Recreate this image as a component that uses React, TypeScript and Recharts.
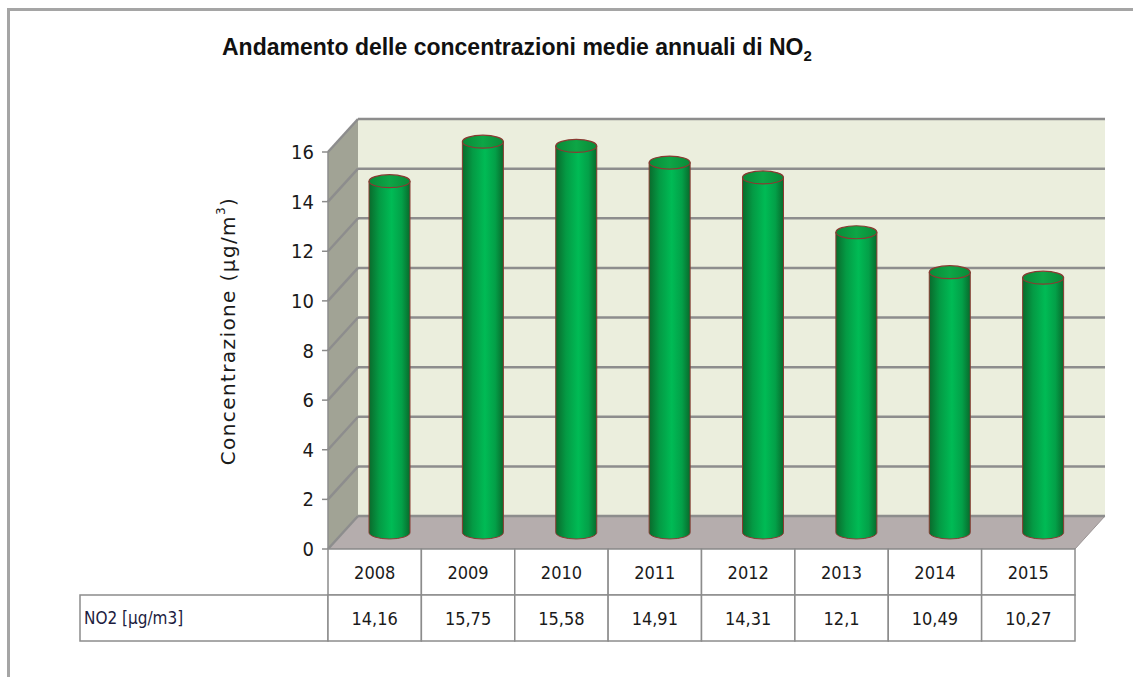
import { BarChart, Bar, XAxis, YAxis, CartesianGrid, ReferenceArea } from 'recharts';

const years = ['2008', '2009', '2010', '2011', '2012', '2013', '2014', '2015'];
const no2 = [14.16, 15.75, 15.58, 14.91, 14.31, 12.1, 10.49, 10.27];
const yTicks = [0, 2, 4, 6, 8, 10, 12, 14, 16];
const rowLabel = 'NO2 [µg/m3]';

const data = years.map((year, i) => ({ year, value: no2[i] }));

// 3D depth of the Excel-like box
const DX = 30;
const DY = -33;
const ROW_H = 46;
const NARROW = "'Liberation Sans Narrow', 'DejaVu Sans Condensed', 'Arial Narrow', sans-serif";

const fmt = (v: number) => String(v).replace('.', ',');

const Walls = (props: any) => {
  const { x, y, width, height } = props;
  const bx = x + DX;
  const by = y + DY;
  return (
    <g>
      <polygon points={`${x},${y} ${bx},${by} ${bx},${by + height} ${x},${y + height}`} fill="#a1a395" />
      <rect x={bx} y={by} width={width} height={height} fill="#ebeedd" />
      <polygon
        points={`${x},${y + height} ${bx},${by + height} ${bx + width},${by + height} ${x + width},${y + height}`}
        fill="#b5adad"
        stroke="#9a9494"
        strokeWidth={1}
      />
    </g>
  );
};

const GridLine = (props: any) => {
  const { x1, y1, x2, key } = props;
  return (
    <g key={key}>
      <line x1={x1} y1={y1} x2={x1 + DX} y2={y1 + DY} stroke="#8d8d8d" strokeWidth={2.5} />
      <line x1={x1 + DX} y1={y1 + DY} x2={x2 + DX} y2={y1 + DY} stroke="#8d8d8d" strokeWidth={2.5} />
    </g>
  );
};

const Cylinder = (props: any) => {
  const { x, y, width, height, index } = props;
  if (height == null || width == null) return null;
  const rx = width / 2;
  const ry = 6.5;
  const cx = x + rx + DX / 2;
  const top = y + DY / 2;
  const bottom = y + height + DY / 2;
  const gid = `cyl-body-${index}`;
  const tid = `cyl-top-${index}`;
  return (
    <g>
      <defs>
        <linearGradient id={gid} x1="0" y1="0" x2="1" y2="0">
          <stop offset="0%" stopColor="#0a6a2c" />
          <stop offset="25%" stopColor="#049a44" />
          <stop offset="55%" stopColor="#00bb55" />
          <stop offset="80%" stopColor="#03a048" />
          <stop offset="100%" stopColor="#086a2c" />
        </linearGradient>
        <linearGradient id={tid} x1="0" y1="0" x2="1" y2="0">
          <stop offset="0%" stopColor="#0a8a38" />
          <stop offset="50%" stopColor="#0da646" />
          <stop offset="100%" stopColor="#0a8a38" />
        </linearGradient>
      </defs>
      <path
        d={`M${cx - rx},${top} L${cx - rx},${bottom} A${rx},${ry} 0 0 0 ${cx + rx},${bottom} L${cx + rx},${top} Z`}
        fill={`url(#${gid})`}
        stroke="#8a3a32"
        strokeWidth={1}
      />
      <ellipse cx={cx} cy={top} rx={rx} ry={ry} fill={`url(#${tid})`} stroke="#8a3a32" strokeWidth={1.2} />
    </g>
  );
};

const TableTick = (props: any) => {
  const { x, y, payload, width, visibleTicksCount } = props;
  const index = payload.index ?? props.index;
  const cw = width && visibleTicksCount ? width / visibleTicksCount : (payload.offset || 46.7) * 2;
  const left = x - cw / 2;
  const cell = { fill: '#ffffff', stroke: '#8c8c8c', strokeWidth: 1.5 };
  const txt = { fontFamily: NARROW, fontSize: 18, fill: '#1a1a1a' };
  return (
    <g>
      {index === 0 && (
        <g>
          <rect x={80} y={y + ROW_H} width={left - 80} height={ROW_H} {...cell} />
          <text x={84} y={y + ROW_H * 1.5 + 6} {...txt} fontSize={17} fill="#1c1c40">
            {rowLabel}
          </text>
        </g>
      )}
      <rect x={left} y={y} width={cw} height={ROW_H} {...cell} />
      <text x={x} y={y + ROW_H / 2 + 7} textAnchor="middle" {...txt}>
        {payload.value}
      </text>
      <rect x={left} y={y + ROW_H} width={cw} height={ROW_H} {...cell} />
      <text x={x} y={y + ROW_H * 1.5 + 7} textAnchor="middle" {...txt}>
        {fmt(no2[index])}
      </text>
    </g>
  );
};

const YLabel = () => (
  <text
    x={228}
    y={331}
    transform="rotate(-90 228 331)"
    textAnchor="middle"
    dominantBaseline="central"
    fill="#1a1a1a"
    style={{ fontFamily: "'DejaVu Sans', Verdana, sans-serif", fontSize: 20, letterSpacing: 1.4 }}
  >
    Concentrazione (µg/m<tspan style={{ fontSize: 12 }} dy={-7}>3</tspan>
    <tspan dy={7}>)</tspan>
  </text>
);

export default function App() {
  return (
    <div style={{ position: 'absolute', left: 0, top: 0, width: 1133, height: 677, background: '#fff', overflow: 'hidden' }}>
      <div
        style={{
          position: 'absolute',
          left: 7,
          top: 8,
          width: 1200,
          height: 700,
          borderLeft: '3px solid #a5a5a5',
          borderTop: '3px solid #a5a5a5',
        }}
      />
      <svg width={1133} height={80} style={{ position: 'absolute', left: 0, top: 0 }}>
        <text x={222} y={55} fontFamily="'Liberation Sans', Arial, sans-serif" fontWeight="bold" fontSize={23} fill="#111">
          Andamento delle concentrazioni medie annuali di NO
          <tspan fontSize={15} dy={6}>2</tspan>
        </text>
      </svg>
      <div style={{ position: 'absolute', left: 0, top: 0 }}>
        <BarChart width={1133} height={677} data={data} margin={{ top: 152, right: 58, bottom: 28, left: 0 }} barSize={41}>
          <ReferenceArea y1={0} y2={16} shape={<Walls />} zIndex={-200} ifOverflow="visible" />
          <CartesianGrid vertical={false} horizontal={GridLine as any} />
          <XAxis
            dataKey="year"
            height={100}
            axisLine={false}
            tickLine={false}
            tickSize={0}
            tickMargin={0}
            interval={0}
            tick={<TableTick />}
          />
          <YAxis
            domain={[0, 16]}
            ticks={yTicks}
            width={328}
            axisLine={{ stroke: '#8c8c8c', strokeWidth: 1.5 }}
            tickLine={{ stroke: '#8c8c8c', strokeWidth: 1.5 }}
            tickSize={6}
            tickMargin={8}
            tick={{ fontSize: 20, fill: '#1a1a1a', fontFamily: NARROW }}
            label={<YLabel />}
          />
          <Bar dataKey="value" shape={<Cylinder />} isAnimationActive={false} />
        </BarChart>
      </div>
    </div>
  );
}
